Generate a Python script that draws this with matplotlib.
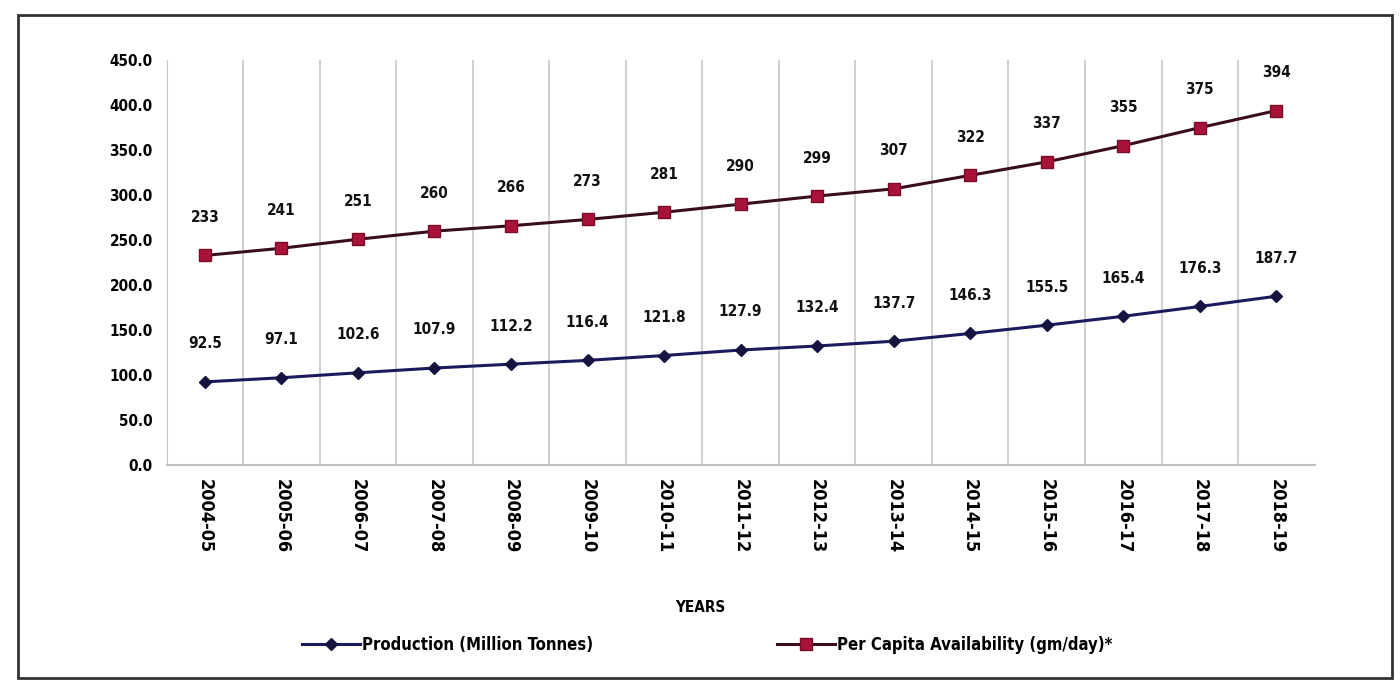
import matplotlib
matplotlib.use("Agg")
import matplotlib.pyplot as plt
from matplotlib.patches import Rectangle

plt.rcParams["font.family"] = ["Liberation Sans Narrow", "DejaVu Sans"]
plt.rcParams["font.stretch"] = "condensed"

years = ["2004-05", "2005-06", "2006-07", "2007-08", "2008-09", "2009-10",
         "2010-11", "2011-12", "2012-13", "2013-14", "2014-15", "2015-16",
         "2016-17", "2017-18", "2018-19"]
production = [92.5, 97.1, 102.6, 107.9, 112.2, 116.4, 121.8, 127.9, 132.4,
              137.7, 146.3, 155.5, 165.4, 176.3, 187.7]
per_capita = [233, 241, 251, 260, 266, 273, 281, 290, 299, 307, 322, 337,
              355, 375, 394]
y_ticks = [0, 50, 100, 150, 200, 250, 300, 350, 400, 450]

fig = plt.figure(figsize=(14, 6.84), dpi=100)
ax = fig.add_axes([0.119, 0.320, 0.820, 0.592])

x = list(range(len(years)))
ax.plot(x, production, color="#1c1a5e", lw=2.2, marker="D", ms=6,
        mfc="#15133f", mec="#15133f", label="Production (Million Tonnes)")
ax.plot(x, per_capita, color="#3a0d1c", lw=2.2, marker="s", ms=9,
        mfc="#a8123a", mec="#7a0c28", label="Per Capita Availability (gm/day)*")

for xi, v in zip(x, production):
    ax.annotate(f"{v:.1f}", (xi, v), xytext=(0, 22), textcoords="offset points",
                ha="center", va="bottom", fontsize=11, fontweight="bold", color="#111")
for xi, v in zip(x, per_capita):
    ax.annotate(f"{v}", (xi, v), xytext=(0, 22), textcoords="offset points",
                ha="center", va="bottom", fontsize=11, fontweight="bold", color="#111")

ax.set_xlim(-0.5, len(years) - 0.5)
ax.set_ylim(0, 450)
ax.set_yticks(y_ticks)
ax.set_yticklabels([f"{t:.1f}" for t in y_ticks], fontsize=11, fontweight="bold")
ax.set_xticks(x)
ax.set_xticklabels(years, rotation=-90, fontsize=13, fontweight="bold")
ax.tick_params(length=0, pad=10)

# category separators, Excel style
for b in range(1, len(years)):
    ax.axvline(b - 0.5, color="#c8c8c8", lw=1.2, zorder=0)
for side in ["top", "right"]:
    ax.spines[side].set_visible(False)
ax.spines["left"].set_color("#c8c8c8")
ax.spines["bottom"].set_color("#c0c0c0")
ax.spines["bottom"].set_linewidth(1.5)

fig.text(0.50, 0.112, "YEARS", ha="center", va="center", fontsize=11,
         fontweight="bold")
fig.legend(loc="center", bbox_to_anchor=(0.505, 0.057), ncol=2, frameon=False,
           prop={"size": 12, "weight": "bold", "stretch": "condensed"},
           columnspacing=11, handlelength=3.5, handletextpad=0.1)

fig.add_artist(Rectangle((0.013, 0.009), 0.981, 0.969, transform=fig.transFigure,
                         fill=False, edgecolor="#333333", lw=2))

fig.savefig("out.png", dpi=100, facecolor="white")
